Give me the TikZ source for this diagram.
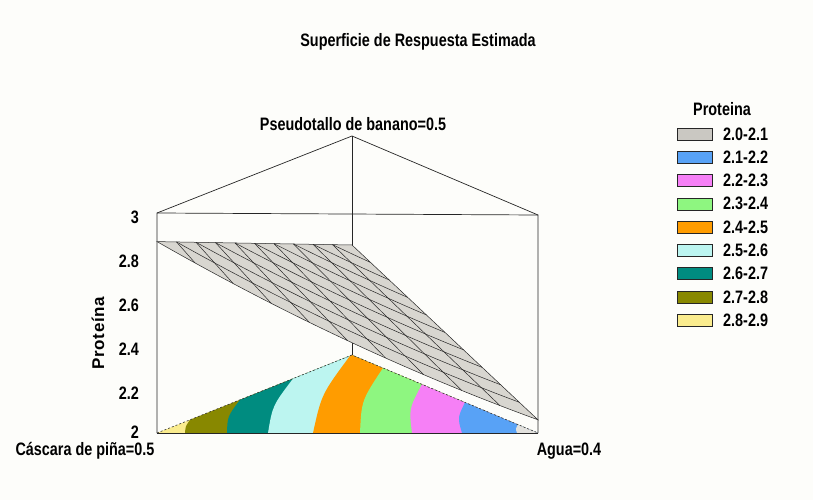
\documentclass[tikz,border=0pt]{standalone}
\usepackage{fontspec}
\setmainfont{Liberation Sans}
\newfontfamily\cond[FakeStretch=0.8]{Liberation Sans}
\usetikzlibrary{calc}
\definecolor{bgcol}{RGB}{253,253,250}
\definecolor{cA}{RGB}{202,200,194}
\definecolor{cB}{RGB}{88,162,246}
\definecolor{cC}{RGB}{246,128,246}
\definecolor{cD}{RGB}{142,246,128}
\definecolor{cE}{RGB}{255,156,0}
\definecolor{cF}{RGB}{188,245,240}
\definecolor{cG}{RGB}{0,140,128}
\definecolor{cH}{RGB}{136,136,0}
\definecolor{cI}{RGB}{250,236,142}
\definecolor{surf}{RGB}{216,214,208}
\tikzset{
  frame/.style={draw=black!85, line width=0.7pt},
  floorline/.style={draw=black!80, line width=0.6pt, dash pattern=on 2pt off 2pt},
  mesh/.style={draw=black!85, line width=0.5pt},
  legbox/.style={draw=black!85, line width=0.8pt, minimum width=35pt, minimum height=12pt, inner sep=0pt},
  numlab/.style={inner sep=0pt, font=\cond\bfseries\fontsize{18}{18}\selectfont},
  boldlab/.style={inner sep=0pt, font=\cond\bfseries\fontsize{18}{18}\selectfont},
}
\begin{document}
\begin{tikzpicture}[x=1pt,y=-1pt,
  declare function={
    sx(\ua,\ub,\uc)=157*\ua+352*\ub+538*\uc;
    sz(\ua,\ub,\uc)=2.87*\ua+2.5*\ub+2.06*\uc-0.18*\ua*\uc;
    sy(\ua,\ub,\uc)=433*\ua+355*\ub+433*\uc-220*(sz(\ua,\ub,\uc)-2);
  }]
\fill[bgcol] (0,0) rectangle (813,500);
\useasboundingbox (0,0) rectangle (813,500);

% floor with contour bands
\coordinate (FA) at (157,433);
\coordinate (FB) at (352,355);
\coordinate (FC) at (538,433);
\begin{scope}
\clip (FA) -- (FB) -- (FC) -- cycle;
\fill[cI] (FA) -- (FB) -- (FC) -- cycle;
\fill[cH] (185,433) .. controls ($(185,433)!.5!(190,419.8)+(-2,0)$) .. (190,419.8) -- (FB) -- (FC) -- cycle;
\fill[cG] (227,433) .. controls ($(227,433)!.5!(240,399.8)+(-6,0)$) .. (240,399.8) -- (FB) -- (FC) -- cycle;
\fill[cF] (268,433) .. controls ($(268,433)!.5!(293,378.6)+(-8,0)$) .. (293,378.6) -- (FB) -- (FC) -- cycle;
\fill[cE] (313,433) .. controls ($(313,433)!.5!(350,355.8)+(-10,0)$) .. (350,355.8) -- (FB) -- (FC) -- cycle;
\fill[cD] (360,433) .. controls ($(360,433)!.5!(383,368)+(-10,0)$) .. (383,368) -- (FC) -- cycle;
\fill[cC] (412,433) .. controls ($(412,433)!.5!(422,384.3)+(-8,0)$) .. (422,384.3) -- (FC) -- cycle;
\fill[cB] (462,433) .. controls ($(462,433)!.5!(465,402.4)+(-6,0)$) .. (465,402.4) -- (FC) -- cycle;
\fill[cA!55!white] (517,433) .. controls ($(517,433)!.5!(518,424.6)+(-2,0)$) .. (518,424.6) -- (FC) -- cycle;
\end{scope}
\draw[floorline] (FA) -- (FB) -- (FC);

% prism frame
\coordinate (TL) at (157,213);
\coordinate (TB) at (352,136);
\coordinate (TR) at (538,215);
\draw[frame] (FA) -- (FC);
\draw[frame] (FA) -- (TL) -- (TB) -- (TR) -- (FC);
\draw[frame] (TL) -- (TR);
\draw[frame] (TB) -- (FB);

% response surface
\coordinate (SB) at (352,245);
\fill[surf] (SB) -- plot[domain=0:1, samples=40, variable=\t] ({sx(1-\t,0,\t)},{sy(1-\t,0,\t)}) -- cycle;
\foreach \i in {1,...,9} {
  \pgfmathsetmacro\vb{\i/10}
  \pgfmathsetmacro\ve{1-\i/10}
  \draw[mesh] plot[domain=0:\ve, samples=15, variable=\t] ({sx(\ve-\t,\vb,\t)},{sy(\ve-\t,\vb,\t)});
  \draw[mesh] plot[domain=0:\ve, samples=15, variable=\t] ({sx(\vb,\ve-\t,\t)},{sy(\vb,\ve-\t,\t)});
}
\draw[mesh] (SB) -- plot[domain=0:1, samples=40, variable=\t] ({sx(1-\t,0,\t)},{sy(1-\t,0,\t)}) -- cycle;

% texts
\node[boldlab, anchor=base] (title) at (418,47) {Superficie de Respuesta Estimada};
\node[boldlab, anchor=base] (vB) at (353,130) {Pseudotallo de banano=0.5};
\node[boldlab, anchor=base] (vA) at (85,455) {Cáscara de piña=0.5};
\node[boldlab, anchor=base] (vC) at (569,455) {Agua=0.4};
\node[inner sep=0pt, rotate=90, font=\bfseries\fontsize{17}{17}\selectfont\addfontfeature{LetterSpace=4}] (ylab) at (98,333) {Proteína};
\foreach \v [count=\k from 0] in {3,2.8,2.6,2.4,2.2} {
  \node[numlab, anchor=base east] (tk\k) at (139,{223+44*\k}) {\v};
}
\node[numlab, anchor=base east] (tk5) at (139,438) {2};

% legend
\node[boldlab, anchor=base] (legtitle) at (722,115) {Proteina};
\foreach \col/\lab [count=\k from 0] in {cA/2.0-2.1, cB/2.1-2.2, cC/2.2-2.3, cD/2.3-2.4, cE/2.4-2.5, cF/2.5-2.6, cG/2.6-2.7, cH/2.7-2.8, cI/2.8-2.9} {
  \node[legbox, fill=\col] (lg\k) at (694.5,{134+23.3*\k}) {};
  \node[numlab, anchor=base west] (lt\k) at (723,{140+23.3*\k}) {\lab};
}
\end{tikzpicture}
\end{document}
